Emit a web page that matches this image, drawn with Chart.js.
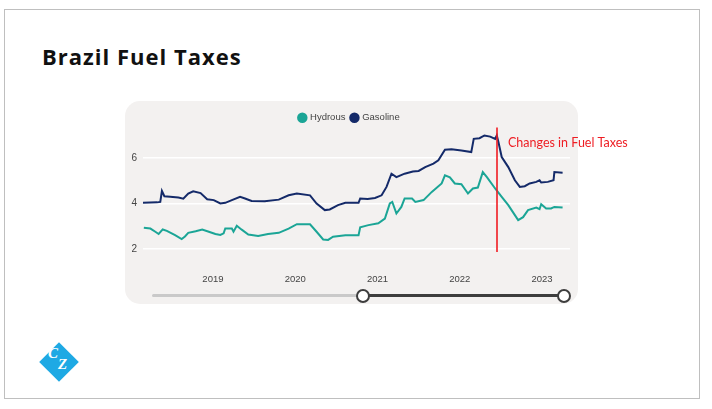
<!DOCTYPE html>
<html>
<head>
<meta charset="utf-8">
<script src="https://cdn.jsdelivr.net/npm/chart.js@4/dist/chart.umd.min.js"></script>
<style>
  html, body { margin: 0; padding: 0; background: #fff; }
  body { width: 712px; height: 409px; position: relative; overflow: hidden; }
  #frame { position: absolute; left: 4px; top: 9px; width: 694px; height: 388px; border: 1px solid #bfbfbf; }
  #title { position: absolute; left: 42px; top: 45px; font: bold 22px "Open Sans", sans-serif; letter-spacing: 1px; line-height: 22px; color: #111; }
  #card { position: absolute; left: 125px; top: 101px; width: 453px; height: 203px; border-radius: 15px; background: #f3f1f0; }
  #wrap { position: absolute; left: 125px; top: 101px; width: 515px; height: 203px; }
  .track { position: absolute; height: 3px; top: 294px; border-radius: 2px; }
  .knob { position: absolute; width: 10px; height: 10px; border: 2px solid #3d3d3d; border-radius: 50%; background: #fff; top: 289px; }
  #logo { position: absolute; left: 45px; top: 348px; width: 28px; height: 28px; background: #1ea9e4; transform: rotate(45deg); }
  .lt { position: absolute; color: #fff; font: bold italic 15px "Liberation Serif", serif; }
</style>
</head>
<body>
<div id="frame"></div>
<div id="title">Brazil Fuel Taxes</div>
<div id="card"></div>
<div id="wrap"><canvas id="myChart" width="515" height="203"></canvas></div>
<div class="track" style="left:152px; width:211px; background:#c9c9c9;"></div>
<div class="track" style="left:363px; width:201px; background:#3d3d3d;"></div>
<div class="knob" style="left:356px;"></div>
<div class="knob" style="left:557px;"></div>
<div id="logo"></div>
<div class="lt" style="left:48px; top:345px;">C</div>
<div class="lt" style="left:58px; top:356px;">Z</div>
<script>
// decimal years
var gasDates = [2018.15, 2018.32, 2018.36, 2018.38, 2018.41, 2018.48, 2018.58, 2018.64, 2018.70, 2018.76,
                2018.85, 2018.93, 2019.01, 2019.09, 2019.15, 2019.23, 2019.33, 2019.39, 2019.47, 2019.63,
                2019.80, 2019.92, 2020.02, 2020.18, 2020.26, 2020.36, 2020.42, 2020.52, 2020.61, 2020.77,
                2020.79, 2020.88, 2020.97, 2021.05, 2021.11, 2021.17, 2021.23, 2021.33, 2021.43, 2021.50,
                2021.58, 2021.68, 2021.74, 2021.82, 2021.90, 2022.02, 2022.14, 2022.17, 2022.24, 2022.30,
                2022.37, 2022.43, 2022.45, 2022.47, 2022.51, 2022.59, 2022.67, 2022.73, 2022.79, 2022.85,
                2022.93, 2022.97, 2022.99, 2023.07, 2023.14, 2023.15, 2023.25];
var gasValues = [4.03, 4.05, 4.07, 4.55, 4.32, 4.30, 4.26, 4.21, 4.44, 4.54,
                 4.46, 4.19, 4.15, 4.00, 4.03, 4.15, 4.29, 4.22, 4.11, 4.10,
                 4.17, 4.36, 4.44, 4.36, 4.00, 3.71, 3.74, 3.93, 4.03, 4.03,
                 4.22, 4.20, 4.24, 4.36, 4.73, 5.31, 5.16, 5.31, 5.41, 5.43,
                 5.60, 5.75, 5.90, 6.36, 6.38, 6.33, 6.26, 6.84, 6.87, 6.99,
                 6.94, 6.84, 6.99, 6.70, 6.04, 5.60, 5.02, 4.73, 4.76, 4.88,
                 4.95, 5.02, 4.92, 4.95, 5.02, 5.38, 5.35];

var hydDates = [2018.16, 2018.24, 2018.30, 2018.34, 2018.39, 2018.44, 2018.54, 2018.62, 2018.66, 2018.70,
                2018.79, 2018.87, 2018.95, 2019.03, 2019.09, 2019.13, 2019.15, 2019.23, 2019.25, 2019.29,
                2019.35, 2019.43, 2019.55, 2019.67, 2019.80, 2019.92, 2020.02, 2020.18, 2020.26, 2020.34,
                2020.40, 2020.46, 2020.61, 2020.77, 2020.79, 2020.89, 2021.01, 2021.09, 2021.15, 2021.18,
                2021.23, 2021.29, 2021.33, 2021.42, 2021.46, 2021.56, 2021.66, 2021.78, 2021.82, 2021.88,
                2021.94, 2022.02, 2022.10, 2022.16, 2022.22, 2022.28, 2022.33, 2022.43, 2022.51, 2022.59,
                2022.67, 2022.71, 2022.77, 2022.83, 2022.93, 2022.97, 2022.99, 2023.05, 2023.11, 2023.15,
                2023.25];
var hydValues = [2.93, 2.90, 2.76, 2.66, 2.86, 2.80, 2.61, 2.44, 2.55, 2.71,
                 2.78, 2.86, 2.76, 2.66, 2.62, 2.69, 2.90, 2.90, 2.76, 3.02,
                 2.85, 2.64, 2.57, 2.66, 2.71, 2.90, 3.09, 3.09, 2.76, 2.42,
                 2.40, 2.54, 2.61, 2.61, 2.95, 3.05, 3.13, 3.34, 4.00, 4.07,
                 3.56, 3.85, 4.22, 4.22, 4.07, 4.15, 4.51, 4.88, 5.24, 5.15,
                 4.88, 4.85, 4.44, 4.66, 4.70, 5.38, 5.16, 4.66, 4.29, 3.93,
                 3.49, 3.27, 3.40, 3.71, 3.82, 3.75, 3.97, 3.78, 3.78, 3.85,
                 3.82];

var yearTicks = [2019, 2020, 2021, 2022, 2023];
var yTicks = [2, 4, 6];
var changeDate = 2022.45;
var changeLabel = 'Changes in Fuel Taxes';

function toPoints(dates, values) {
    return dates.map(function (d, i) { return {x: d, y: values[i]}; });
}

var changeLine = {
    id: 'changeLine',
    afterDatasetsDraw: function (chart) {
        var ctx = chart.ctx;
        var x = chart.scales.x, y = chart.scales.y;
        var px = Math.round(x.getPixelForValue(changeDate));
        ctx.save();
        ctx.strokeStyle = '#f01c22';
        ctx.lineWidth = 1.6;
        ctx.beginPath();
        ctx.moveTo(px, y.getPixelForValue(7.34));
        ctx.lineTo(px, y.getPixelForValue(1.87));
        ctx.stroke();
        ctx.fillStyle = '#ee1d23';
        ctx.font = '12.5px Lato';
        ctx.textBaseline = 'middle';
        ctx.fillText(changeLabel, px + 11, y.getPixelForValue(6.64));
        ctx.restore();
    }
};

var context = document.getElementById('myChart').getContext('2d');
var myChart = new Chart(context, {
    type: 'line',
    data: {
        datasets: [{
            label: 'Hydrous',
            data: toPoints(hydDates, hydValues),
            borderColor: '#1ba596',
            backgroundColor: '#1ba596',
            borderWidth: 2,
            pointRadius: 0
        }, {
            label: 'Gasoline',
            data: toPoints(gasDates, gasValues),
            borderColor: '#142a69',
            backgroundColor: '#142a69',
            borderWidth: 2,
            pointRadius: 0
        }]
    },
    options: {
        responsive: false,
        animation: false,
        layout: { padding: { left: 4, right: 70, top: 6, bottom: 18 } },
        plugins: {
            legend: {
                labels: {
                    usePointStyle: true,
                    pointStyle: 'circle',
                    boxWidth: 6,
                    boxHeight: 6,
                    padding: 6,
                    color: '#444',
                    font: { family: 'Liberation Sans', size: 9.5 }
                }
            },
            tooltip: { enabled: false }
        },
        scales: {
            x: {
                type: 'linear',
                min: 2018.15,
                max: 2023.34,
                afterBuildTicks: function (axis) {
                    axis.ticks = yearTicks.map(function (v) { return {value: v}; });
                },
                afterFit: function (axis) { axis.height = 24; },
                grid: { display: false, drawTicks: false },
                border: { display: false },
                ticks: {
                    padding: 12,
                    maxRotation: 0,
                    color: '#444',
                    font: { family: 'Liberation Sans', size: 9.5 },
                    callback: function (v) { return String(v); }
                }
            },
            y: {
                min: 1.43,
                max: 7.12,
                afterBuildTicks: function (axis) {
                    axis.ticks = yTicks.map(function (v) { return {value: v}; });
                },
                afterFit: function (axis) { axis.width = 14; },
                grid: { color: '#ffffff', lineWidth: 1.5, drawTicks: false },
                border: { display: false },
                ticks: {
                    padding: 6,
                    color: '#444',
                    font: { family: 'Liberation Sans', size: 10 }
                }
            }
        }
    },
    plugins: [changeLine]
});
</script>
</body>
</html>
